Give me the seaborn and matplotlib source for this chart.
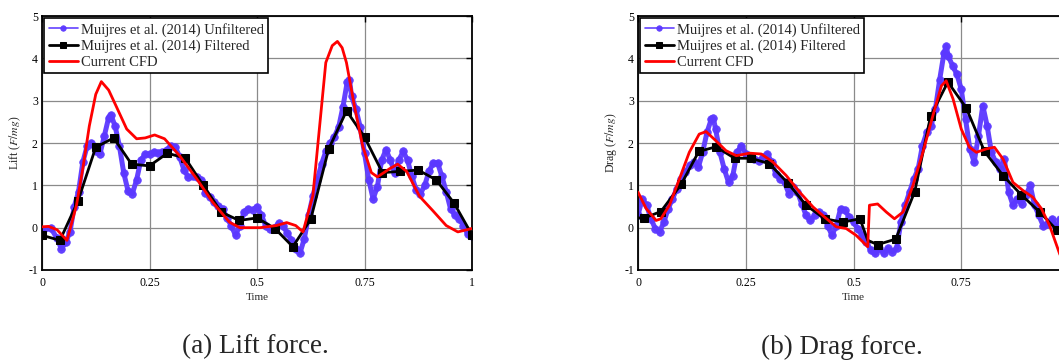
import numpy as np
import pandas as pd
import matplotlib
matplotlib.use("Agg")
import matplotlib.pyplot as plt
import seaborn as sns

# ---------------- data ----------------
# Lift: unfiltered experimental (Muijres et al. 2014)
lift_unf_t = [0.00, 0.02, 0.035, 0.045, 0.055, 0.065, 0.075, 0.085, 0.095, 0.105, 0.115, 0.125,
              0.135, 0.145, 0.155, 0.16, 0.17, 0.18, 0.19, 0.20, 0.21, 0.22, 0.23, 0.24, 0.25,
              0.26, 0.27, 0.28, 0.29, 0.30, 0.31, 0.32, 0.33, 0.34, 0.35, 0.36, 0.37, 0.38,
              0.39, 0.40, 0.41, 0.42, 0.43, 0.44, 0.45, 0.46, 0.47, 0.48, 0.49, 0.50, 0.51,
              0.52, 0.53, 0.54, 0.55, 0.56, 0.57, 0.58, 0.59, 0.60, 0.61, 0.62, 0.63, 0.64,
              0.65, 0.66, 0.67, 0.68, 0.69, 0.70, 0.71, 0.715, 0.72, 0.73, 0.74, 0.75, 0.76,
              0.77, 0.78, 0.79, 0.80, 0.81, 0.82, 0.83, 0.84, 0.85, 0.86, 0.87, 0.88, 0.89,
              0.90, 0.91, 0.92, 0.93, 0.94, 0.95, 0.96, 0.97, 0.98, 0.99, 1.00]
lift_unf_v = [-0.10, 0.00, -0.25, -0.50, -0.35, -0.10, 0.50, 0.85, 1.55, 1.93, 2.00, 1.80,
              1.75, 2.17, 2.60, 2.67, 2.40, 1.93, 1.30, 0.87, 0.80, 1.13, 1.60, 1.73, 1.73,
              1.78, 1.76, 1.78, 1.84, 1.93, 1.90, 1.68, 1.37, 1.20, 1.22, 1.20, 1.13, 0.82,
              0.72, 0.60, 0.52, 0.45, 0.23, 0.05, -0.18, 0.05, 0.37, 0.45, 0.42, 0.49, 0.30,
              0.05, -0.02, 0.00, 0.10, 0.05, -0.12, -0.30, -0.50, -0.60, -0.26, 0.29, 0.75, 1.13,
              1.50, 1.80, 2.00, 2.15, 2.38, 2.86, 3.45, 3.50, 3.10, 2.80, 2.38, 1.76, 1.13,
              0.68, 0.97, 1.60, 1.84, 1.60, 1.30, 1.60, 1.80, 1.60, 1.21, 0.90, 0.80, 1.00,
              1.33, 1.53, 1.53, 1.21, 0.85, 0.45, 0.30, 0.21, 0.05, -0.15, -0.20]

# Lift: filtered experimental
lift_fil_t = [0.0, 0.0417, 0.0833, 0.125, 0.1667, 0.2083, 0.25, 0.2917, 0.3333, 0.375, 0.4167,
              0.4583, 0.5, 0.5417, 0.5833, 0.625, 0.6667, 0.7083, 0.75, 0.7917, 0.8333,
              0.875, 0.9167, 0.9583, 1.0]
lift_fil_v = [-0.18, -0.30, 0.62, 1.90, 2.12, 1.50, 1.46, 1.76, 1.64, 1.00, 0.37,
              0.17, 0.23, -0.02, -0.45, 0.20, 1.86, 2.76, 2.14, 1.30, 1.33,
              1.36, 1.13, 0.58, -0.17]

# Lift: current CFD
lift_cfd_t = [0.0, 0.015, 0.035, 0.058, 0.08, 0.095, 0.11, 0.125, 0.138, 0.155, 0.172, 0.197,
              0.22, 0.24, 0.262, 0.285, 0.32, 0.36, 0.397, 0.436, 0.46, 0.507, 0.545, 0.569,
              0.59, 0.607, 0.63, 0.645, 0.66, 0.675, 0.687, 0.698, 0.708, 0.727, 0.746,
              0.766, 0.78, 0.795, 0.808, 0.827, 0.848, 0.878, 0.909, 0.94, 0.967, 1.0]
lift_cfd_v = [0.02, 0.03, -0.05, -0.30, 0.52, 1.40, 2.40, 3.15, 3.45, 3.25, 2.88, 2.33,
              2.10, 2.12, 2.19, 2.10, 1.70, 1.15, 0.60, 0.13, 0.00, 0.00, 0.05, 0.12,
              0.05, -0.10, 0.76, 2.33, 3.90, 4.30, 4.40, 4.25, 3.90, 2.85, 1.92,
              1.30, 1.20, 1.30, 1.39, 1.50, 1.33, 0.74, 0.40, 0.05, -0.10, -0.02]

# Drag: unfiltered experimental
drag_unf_t = [0.00, 0.01, 0.02, 0.03, 0.04, 0.05, 0.06, 0.07, 0.08, 0.09, 0.10, 0.11, 0.12,
              0.13, 0.14, 0.15, 0.16, 0.17, 0.175, 0.18, 0.19, 0.20, 0.21, 0.22, 0.23, 0.24,
              0.25, 0.26, 0.27, 0.28, 0.29, 0.30, 0.31, 0.32, 0.33, 0.34, 0.35, 0.36, 0.37,
              0.38, 0.39, 0.40, 0.41, 0.42, 0.43, 0.44, 0.45, 0.46, 0.47, 0.48, 0.49, 0.50,
              0.51, 0.52, 0.53, 0.54, 0.55, 0.56, 0.57, 0.58, 0.59, 0.60, 0.61, 0.62, 0.63,
              0.64, 0.65, 0.66, 0.67, 0.68, 0.69, 0.70, 0.71, 0.715, 0.72, 0.73, 0.74, 0.75,
              0.76, 0.77, 0.78, 0.79, 0.80, 0.81, 0.82, 0.83, 0.84, 0.85, 0.86, 0.87, 0.88,
              0.89, 0.90, 0.91, 0.92, 0.93, 0.94, 0.95, 0.96, 0.97, 0.98, 0.99, 1.00]
drag_unf_v = [0.30, 0.68, 0.53, 0.21, -0.02, -0.10, 0.13, 0.45, 0.68, 0.92, 1.15, 1.31, 1.47,
              1.55, 1.43, 1.78, 2.25, 2.56, 2.58, 2.33, 1.78, 1.39, 1.07, 1.23, 1.78, 1.94,
              1.74, 1.66, 1.62, 1.58, 1.66, 1.74, 1.55, 1.27, 1.15, 1.07, 0.80, 0.96, 0.84,
              0.56, 0.29, 0.17, 0.29, 0.37, 0.29, 0.05, -0.18, 0.05, 0.45, 0.41, 0.25, 0.13,
              -0.02, -0.18, -0.34, -0.53, -0.61, -0.49, -0.61, -0.49, -0.57, -0.49, 0.13, 0.53, 0.84,
              1.15, 1.39, 1.94, 2.25, 2.41, 2.80, 3.50, 4.13, 4.29, 4.05, 3.82, 3.62, 3.27,
              2.56, 1.86, 1.55, 2.17, 2.88, 2.41, 1.78, 1.55, 1.39, 1.62, 0.84, 0.53, 0.68,
              0.56, 0.76, 1.00, 0.53, 0.29, 0.05, 0.09, 0.21, 0.02, 0.20, 0.00, -0.10]

# Drag: filtered experimental
drag_fil_t = [0.0, 0.0147, 0.053, 0.10, 0.141, 0.181, 0.224, 0.262, 0.305, 0.348, 0.39,
              0.433, 0.475, 0.515, 0.533, 0.556, 0.598, 0.642, 0.679, 0.719, 0.762,
              0.804, 0.847, 0.889, 0.932, 0.971, 1.0]
drag_fil_v = [0.23, 0.23, 0.38, 1.02, 1.80, 1.91, 1.64, 1.64, 1.51, 1.05, 0.53,
              0.21, 0.13, 0.21, -0.30, -0.40, -0.27, 0.85, 2.64, 3.44, 2.82,
              1.80, 1.23, 0.78, 0.37, -0.05, -0.10]
drag_fil_marks = list(range(1, 14)) + list(range(15, 26))

# Drag: current CFD
drag_cfd_t = [0.0, 0.019, 0.042, 0.053, 0.073, 0.096, 0.119, 0.142, 0.158, 0.181, 0.204,
              0.228, 0.259, 0.286, 0.313, 0.344, 0.375, 0.406, 0.433, 0.46, 0.483, 0.506,
              0.533, 0.537, 0.556, 0.576, 0.595, 0.615, 0.638, 0.661, 0.684, 0.704, 0.715,
              0.731, 0.75, 0.769, 0.785, 0.808, 0.827, 0.847, 0.87, 0.893, 0.916, 0.936,
              0.955, 0.978, 0.995]
drag_cfd_v = [0.84, 0.45, 0.17, 0.21, 0.53, 1.15, 1.78, 2.21, 2.27, 2.05, 1.82,
              1.70, 1.76, 1.74, 1.55, 1.23, 0.84, 0.49, 0.25, 0.02, -0.02, -0.18,
              -0.45, 0.53, 0.56, 0.37, 0.21, 0.37, 1.00, 1.78, 2.64, 3.35, 3.47,
              3.04, 2.33, 1.90, 1.78, 1.86, 1.90, 1.62, 1.07, 0.88, 0.72, 0.45,
              0.05, -0.61, -1.05]

legend_labels = ["Muijres et al. (2014) Unfiltered",
                 "Muijres et al. (2014) Filtered",
                 "Current CFD"]
x_ticks = [0, 0.25, 0.5, 0.75, 1]
x_ticklabels_left = ["0", "0.25", "0.5", "0.75", "1"]
x_ticklabels_right = ["0", "0.25", "0.5", "0.75", ""]
y_ticks = [-1, 0, 1, 2, 3, 4, 5]
captions = ["(a) Lift force.", "(b) Drag force."]
ylabels = ["Lift ($F/mg$)", "Drag ($F/mg$)"]

# ---------------- style ----------------
sns.set_theme(style="white")
plt.rcParams["font.family"] = ["Liberation Serif", "DejaVu Serif"]
plt.rcParams["mathtext.fontset"] = "stix"
plt.rcParams["axes.unicode_minus"] = False

BLUE = "#5b38ff"
BLACK = "#000000"
RED = "#ff0000"

W, H = 1059, 362
fig = plt.figure(figsize=(W / 100, H / 100), dpi=100)
fig.patch.set_facecolor("white")

ax_top, ax_bot = 16, 270
positions = [(42, 472), (638, 1069)]
axes = []
for (l, r) in positions:
    ax = fig.add_axes([l / W, (H - ax_bot) / H, (r - l) / W, (ax_bot - ax_top) / H])
    axes.append(ax)


def draw(ax, unf_t, unf_v, fil_t, fil_v, cfd_t, cfd_v, ylabel, xtl, marks=None):
    sns.lineplot(x=unf_t, y=unf_v, ax=ax, color=BLUE, lw=3.6, marker="o", markersize=5.5,
                 markeredgecolor=BLUE, markerfacecolor=BLUE, markeredgewidth=0.5,
                 sort=False, estimator=None, label=legend_labels[0], zorder=2, alpha=0.95)
    sns.lineplot(x=fil_t, y=fil_v, ax=ax, color=BLACK, lw=2.0, ls="-", marker="s",
                 markersize=5.5, markeredgecolor=BLACK, markerfacecolor=BLACK,
                 markevery=marks, sort=False, estimator=None, label=legend_labels[1], zorder=3)
    sns.lineplot(x=cfd_t, y=cfd_v, ax=ax, color=RED, lw=2.0, ls="-", sort=False,
                 estimator=None, label=legend_labels[2], zorder=4)
    ax.set_xlim(0, 1)
    ax.set_ylim(-1, 5)
    ax.set_xticks(x_ticks)
    ax.set_xticklabels(xtl)
    ax.set_yticks(y_ticks)
    ax.grid(True, color="#8a8a8a", lw=0.9)
    ax.set_axisbelow(True)
    ax.tick_params(direction="in", length=4, width=1, top=True, right=True,
                   labelsize=8.5, pad=3, colors="black")
    ax.tick_params(axis="x", pad=5)
    for s in ax.spines.values():
        s.set_color("black")
        s.set_linewidth(1.3)
    ax.set_xlabel("Time", fontsize=8, labelpad=3)
    ax.set_ylabel(ylabel, fontsize=8.5, labelpad=4)
    leg = ax.legend(loc="upper left", fontsize=10.5, frameon=True, fancybox=False,
                    edgecolor="black", framealpha=1, handlelength=2.0, handletextpad=0.2,
                    labelspacing=0.2, borderpad=0.3, borderaxespad=0.15)
    leg.get_frame().set_linewidth(1.2)
    hs = leg.legend_handles
    hs[0].set_linewidth(1.2)
    hs[0].set_markersize(4)
    hs[1].set_markersize(5)


draw(axes[0], lift_unf_t, lift_unf_v, lift_fil_t, lift_fil_v, lift_cfd_t, lift_cfd_v,
     ylabels[0], x_ticklabels_left)
draw(axes[1], drag_unf_t, drag_unf_v, drag_fil_t, drag_fil_v, drag_cfd_t, drag_cfd_v,
     ylabels[1], x_ticklabels_right, marks=drag_fil_marks)

fig.text(255 / W, 1 - 347 / H, captions[0], ha="center", va="center", fontsize=19.5)
fig.text(842 / W, 1 - 347 / H, captions[1], ha="center", va="center", fontsize=19.5)

fig.savefig("out.png", dpi=100, facecolor="white")
